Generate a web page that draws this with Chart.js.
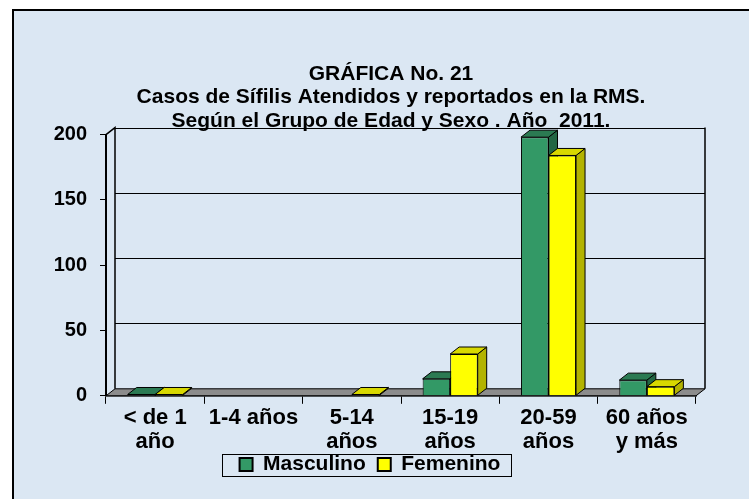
<!DOCTYPE html>
<html>
<head>
<meta charset="utf-8">
<script src="https://cdn.jsdelivr.net/npm/chart.js@4/dist/chart.umd.min.js"></script>
<style>
  html, body { margin: 0; padding: 0; background: #fff; }
  #wrap { width: 749px; height: 499px; }
</style>
</head>
<body>
<div id="wrap"><canvas id="chart" width="749" height="499"></canvas></div>
<script>
const categories = [["< de 1", "año"], "1-4 años", ["5-14", "años"], ["15-19", "años"], ["20-59", "años"], ["60 años", "y más"]];
const masculino = [1, 0, 0, 13, 198, 12];
const femenino = [1, 0, 1, 32, 184, 7];
const yTicks = [0, 50, 100, 150, 200];
const titleLines = ["GRÁFICA No. 21", "Casos de Sífilis Atendidos y reportados en la RMS.", "Según el Grupo de Edad y Sexo . Año  2011."];

const FONT = "'Liberation Sans', Arial, sans-serif";
const DX = 9, DY = -7;

// shades for the fake 3d faces
const faces = [
  { top: "#2b7a52", side: "#236644" },
  { top: "#d8d800", side: "#b3b300" }
];

const bgPlugin = {
  id: "bg",
  beforeDraw(chart) {
    const ctx = chart.ctx;
    ctx.save();
    ctx.fillStyle = "#fff";
    ctx.fillRect(0, 0, chart.width, chart.height);
    ctx.fillStyle = "#dbe7f3";
    ctx.fillRect(12, 9, chart.width - 12, chart.height - 9);
    ctx.strokeStyle = "#000";
    ctx.lineWidth = 2;
    ctx.beginPath();
    ctx.moveTo(13, chart.height);
    ctx.lineTo(13, 10);
    ctx.lineTo(chart.width, 10);
    ctx.stroke();
    ctx.restore();
  }
};

// nudge title and legend sideways / legend up, the way the original sits
const shiftPlugin = {
  id: "shift",
  afterLayout(chart) {
    const t = chart.titleBlock;
    t.left += 33; t.right += 33;
    const l = chart.legend;
    l.left += 12; l.right += 12;
    l.top -= 14; l.bottom -= 14;
  }
};

const walls = {
  id: "walls",
  beforeDatasetsDraw(chart) {
    const ctx = chart.ctx;
    const a = chart.chartArea;
    const y = chart.scales.y;
    ctx.save();
    ctx.lineWidth = 1;
    ctx.strokeStyle = "#000";
    // floor
    ctx.fillStyle = "#8c8c8c";
    ctx.beginPath();
    ctx.moveTo(a.left, a.bottom);
    ctx.lineTo(a.right, a.bottom);
    ctx.lineTo(a.right + DX, a.bottom + DY);
    ctx.lineTo(a.left + DX, a.bottom + DY);
    ctx.closePath();
    ctx.fill();
    ctx.stroke();
    // back wall grid
    yTicks.forEach(v => {
      const py = Math.round(y.getPixelForValue(v) + DY) + 0.5;
      if (v === 0) return;
      ctx.beginPath();
      ctx.moveTo(a.left + DX, py);
      ctx.lineTo(a.right + DX, py);
      ctx.stroke();
    });
    ctx.lineWidth = 1.5;
    ctx.beginPath();
    ctx.moveTo(a.left + DX, a.bottom + DY);
    ctx.lineTo(a.left + DX, a.top + DY);
    ctx.lineTo(a.left, a.top);
    ctx.moveTo(a.right + DX, a.top + DY);
    ctx.lineTo(a.right + DX, a.bottom + DY);
    ctx.stroke();
    // sides and tops of the bars
    ctx.lineWidth = 1;
    chart.data.datasets.forEach((ds, di) => {
      const meta = chart.getDatasetMeta(di);
      meta.data.forEach((bar, i) => {
        if (!ds.data[i]) return;
        const p = bar.getProps(["x", "y", "base", "width"], true);
        const l = p.x - p.width / 2, r = p.x + p.width / 2;
        ctx.fillStyle = faces[di].side;
        ctx.beginPath();
        ctx.moveTo(r, p.y);
        ctx.lineTo(r + DX, p.y + DY);
        ctx.lineTo(r + DX, p.base + DY);
        ctx.lineTo(r, p.base);
        ctx.closePath();
        ctx.fill();
        ctx.stroke();
        ctx.fillStyle = faces[di].top;
        ctx.beginPath();
        ctx.moveTo(l, p.y);
        ctx.lineTo(r, p.y);
        ctx.lineTo(r + DX, p.y + DY);
        ctx.lineTo(l + DX, p.y + DY);
        ctx.closePath();
        ctx.fill();
        ctx.stroke();
      });
    });
    ctx.restore();
  },
  afterDraw(chart) {
    const lg = chart.legend;
    const hb = lg.legendHitBoxes;
    if (!hb || !hb.length) return;
    const last = hb[hb.length - 1];
    const ctx = chart.ctx;
    ctx.save();
    ctx.strokeStyle = "#000";
    ctx.lineWidth = 1;
    const x0 = hb[0].left - 18, x1 = last.left + last.width + 10;
    ctx.strokeRect(Math.round(x0) + 0.5, Math.round(hb[0].top + hb[0].height / 2 - 11) + 0.5, Math.round(x1 - x0), 22);
    ctx.restore();
  }
};

new Chart(document.getElementById("chart"), {
  type: "bar",
  data: {
    labels: categories,
    datasets: [
      { label: "Masculino", data: masculino, backgroundColor: "#339966", borderColor: "#000", borderWidth: 1 },
      { label: "Femenino", data: femenino, backgroundColor: "#ffff00", borderColor: "#000", borderWidth: 1 }
    ]
  },
  options: {
    responsive: false,
    animation: false,
    events: [],
    layout: { padding: { left: 20, right: 53, top: 0, bottom: 0 } },
    datasets: { bar: { categoryPercentage: 0.56, barPercentage: 1.0, borderSkipped: "start" } },
    plugins: {
      title: {
        display: true,
        text: titleLines,
        color: "#000",
        font: { family: FONT, size: 21, weight: "bold", lineHeight: 1.12 },
        padding: { top: 62, bottom: 2 }
      },
      legend: {
        position: "bottom",
        labels: {
          color: "#000",
          font: { family: FONT, size: 21, weight: "bold" },
          boxWidth: 13,
          boxHeight: 13,
          padding: 12,
          generateLabels(chart) {
            return Chart.defaults.plugins.legend.labels.generateLabels(chart).map(it => Object.assign(it, { lineWidth: 2 }));
          }
        }
      },
      tooltip: { enabled: false }
    },
    scales: {
      x: {
        grid: { display: true, drawOnChartArea: false, tickLength: 8, color: "#000" },
        border: { display: true, color: "#000", width: 1.5 },
        ticks: { color: "#000", padding: 3, maxRotation: 0, autoSkip: false, font: { family: FONT, size: 22, weight: "bold", lineHeight: 1.05 } }
      },
      y: {
        min: 0, max: 200,
        afterFit(s) { s.width = 86; },
        afterBuildTicks(s) { s.ticks = yTicks.map(v => ({ value: v })); },
        grid: { display: true, drawOnChartArea: false, tickLength: 6, color: "#000" },
        border: { display: true, color: "#000", width: 2 },
        ticks: { color: "#000", padding: 13, font: { family: FONT, size: 20, weight: "bold" } }
      }
    }
  },
  plugins: [bgPlugin, shiftPlugin, walls]
});
</script>
</body>
</html>
